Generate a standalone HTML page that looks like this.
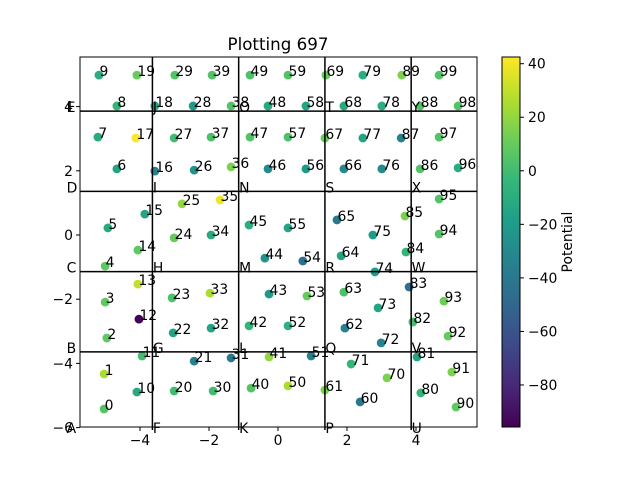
<!DOCTYPE html>
<html><head><meta charset="utf-8"><style>body{margin:0;background:#fff}svg{display:block;font-family:"DejaVu Sans","Liberation Sans",sans-serif}</style></head>
<body>
<svg id="chart" width="640" height="480" viewBox="0 0 640 480" xmlns="http://www.w3.org/2000/svg">
<rect width="640" height="480" fill="#fff"/>
<text x="278" y="50" font-size="16.7" text-anchor="middle">Plotting 697</text>
<g id="plot"></g>
<g id="cbar"></g>
</svg>
<script>
const xs=[-5.04,-5.04,-4.96,-5.01,-5.01,-4.93,-4.67,-5.22,-4.67,-5.19,
-4.09,-3.94,-4.03,-4.06,-4.06,-3.86,-3.57,-4.12,-3.57,-4.09,
-3.01,-2.43,-3.04,-3.07,-3.01,-2.78,-2.43,-3.01,-2.46,-2.99,
-1.88,-1.36,-1.94,-1.97,-1.94,-1.68,-1.36,-1.94,-1.36,-1.91,
-0.78,-0.26,-0.84,-0.26,-0.38,-0.84,-0.29,-0.81,-0.29,-0.81,
0.29,0.96,0.29,0.84,0.72,0.29,0.81,0.29,0.81,0.29,
2.38,1.36,1.94,1.91,1.83,1.71,1.91,1.36,1.91,1.39,
3.16,2.12,2.99,2.90,2.81,2.75,3.01,2.46,3.01,2.46,
4.14,4.03,3.91,3.80,3.71,3.68,4.12,3.57,4.12,3.59,
5.16,5.04,4.93,4.81,4.67,4.67,5.22,4.67,5.22,4.67];
const ys=[-5.42,-4.33,-3.21,-2.09,-0.97,0.22,2.06,3.05,4.02,4.98,
-4.89,-3.77,-2.62,-1.53,-0.47,0.65,1.99,3.02,4.02,4.98,
-4.86,-3.93,-3.05,-1.96,-0.09,0.97,2.02,3.02,4.02,4.98,
-4.86,-3.83,-2.90,-1.81,0.00,1.09,2.12,3.05,4.02,4.98,
-4.77,-3.80,-2.83,-1.84,-0.72,0.31,2.06,3.05,4.02,4.98,
-4.70,-3.77,-2.83,-1.90,-0.81,0.22,2.06,3.05,4.02,4.98,
-5.20,-4.83,-2.90,-1.78,-0.65,0.47,2.06,3.02,4.02,4.98,
-4.45,-4.02,-3.36,-2.27,-1.15,0.00,2.06,3.02,4.02,4.98,
-4.92,-3.80,-2.71,-1.62,-0.53,0.59,2.06,3.02,4.02,4.98,
-5.36,-4.27,-3.15,-2.06,0.03,1.12,2.09,3.05,4.02,4.98];
const vals=[5,25,8,8,8,-12,-15,-12,-5,-10,
-12,0,-95,30,8,-15,-35,42,-15,10,
0,-35,-15,3,10,20,-25,0,-20,5,
0,-40,-15,25,-12,40,15,3,5,5,
5,20,-5,-22,-25,-10,-30,5,-12,3,
25,-35,-8,10,-45,-15,-20,3,-15,5,
-40,15,-35,3,-15,-40,-30,10,-12,10,
15,-5,-35,-15,-20,-20,-30,-15,-10,-10,
-5,-15,0,-45,-5,15,5,-35,5,15,
8,15,10,12,5,5,-10,5,5,5];
const xTicks=[-4,-2,0,2,4];
const yTicks=[-6,-4,-2,0,2,4];
const gridLines=[-3.64,-1.14,1.36,3.86];
const gridLetters=["A","B","C","D","E","F","G","H","I","J","K","L","M","N","O","P","Q","R","S","T","U","V","W","X","Y"];
const gridOrigin=[-6.14,-3.64,-1.14,1.36,3.86];
const cbTicks=[40,20,0,-20,-40,-60,-80];
const vmin=-95.7, vmax=42.5;

const L=80,R=477,T=57,B=427;
const X=v=>278+34.5*v, Y=v=>235-32.1*v;
const CT=57,CB=427,CL=502,CR=520;
const C=v=>CB-(v-vmin)/(vmax-vmin)*(CB-CT);
const vir=[[68,1,84],[72,40,120],[62,74,137],[49,104,142],[38,130,142],[31,158,137],[53,183,121],[109,205,89],[180,222,44],[253,231,37]];
function cmap(v){let t=Math.max(0,Math.min(1,(v-vmin)/(vmax-vmin)))*9;let i=Math.min(8,Math.floor(t)),f=t-i;const a=vir[i],b=vir[i+1];return `rgb(${a.map((c,k)=>Math.round(c+(b[k]-c)*f)).join(',')})`;}
const NS="http://www.w3.org/2000/svg";
function mk(tag,at,parent,txt){const e=document.createElementNS(NS,tag);for(const k in at)e.setAttribute(k,at[k]);if(txt!==undefined)e.textContent=txt;parent.appendChild(e);return e;}
const g=document.getElementById('plot');
for(let i=0;i<xs.length;i++){
 const c=mk('circle',{cx:X(xs[i]),cy:Y(ys[i]),r:4.4,fill:cmap(vals[i])},g);
 
 
 const t=mk('text',{x:X(xs[i])+0.5,y:Y(ys[i])+1,'font-size':13.9},g,String(i));
 
 
}
gridLines.forEach((v,k)=>{
 const a=mk('line',{x1:L,x2:R,y1:Y(v),y2:Y(v),stroke:'#000','stroke-width':1.5},g);
 
 
 const b=mk('line',{x1:X(v),x2:X(v),y1:T,y2:B+3,stroke:'#000','stroke-width':1.5},g);
 
 
});
gridOrigin.forEach((gx,ci)=>gridOrigin.forEach((gy,ri)=>{
 const t=mk('text',{x:X(gx)+0.5,y:Y(gy)+1,'font-size':13.9},g,gridLetters[ci*5+ri]);
 
 
}));
const fr=mk('rect',{x:L,y:T,width:R-L,height:B-T,fill:'none',stroke:'#000','stroke-width':1},g);


xTicks.forEach(v=>{
 const l=mk('line',{x1:X(v),x2:X(v),y1:B,y2:B+4,stroke:'#000'},g);
 
 
 const t=mk('text',{x:X(v),y:B+18,'font-size':13.9,'text-anchor':'middle'},g,v<0?'\u2212'+(-v):String(v));
 
 
});
yTicks.forEach(v=>{
 const l=mk('line',{x1:L-4,x2:L,y1:Y(v),y2:Y(v),stroke:'#000'},g);
 
 
 const t=mk('text',{x:L-7,y:Y(v)+5,'font-size':13.9,'text-anchor':'end'},g,v<0?'\u2212'+(-v):String(v));
 
 
});
const cb=document.getElementById('cbar');
const defs=mk('defs',{},cb);
const gr=mk('linearGradient',{id:'vg',x1:0,y1:1,x2:0,y2:0},defs);
vir.forEach((c,k)=>mk('stop',{offset:k/9,'stop-color':`rgb(${c.join(',')})`},gr));
const cr=mk('rect',{x:CL,y:CT,width:CR-CL,height:CB-CT,fill:'url(#vg)',stroke:'#000','stroke-width':1},cb);


cbTicks.forEach(v=>{
 const l=mk('line',{x1:CR,x2:CR+4,y1:C(v),y2:C(v),stroke:'#000'},cb);
 
 
 const t=mk('text',{x:CR+8,y:C(v)+5,'font-size':13.9},cb,v<0?'\u2212'+(-v):String(v));
 
 
});
const lab=mk('text',{x:572,y:242,'font-size':13.9,'text-anchor':'middle',transform:'rotate(-90 572 242)'},cb,'Potential');


</script>
</body></html>
